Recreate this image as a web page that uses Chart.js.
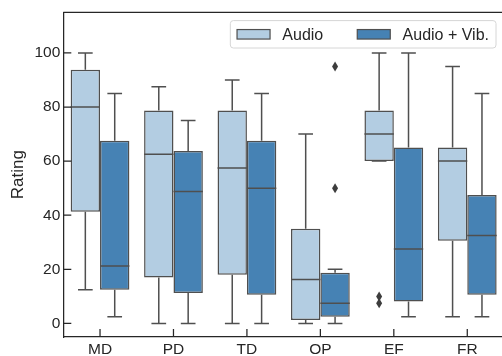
<!DOCTYPE html>
<html>
<head>
<meta charset="utf-8">
<script src="https://cdn.jsdelivr.net/npm/chart.js@4.4.1/dist/chart.umd.min.js"></script>
<style>
  html, body { margin: 0; padding: 0; background: #fff; overflow: hidden; }
  #wrap { width: 505px; height: 356px; position: relative; }
</style>
</head>
<body>
<div id="wrap"><canvas id="chart"></canvas></div>
<script>
/* ================================
   Data
================================ */
const categories = ['MD', 'PD', 'TD', 'OP', 'EF', 'FR'];
const seriesNames = ['Audio', 'Audio + Vib.'];
const yTicks = [0, 20, 40, 60, 80, 100];

const audioMin = [12.5, 0, 0, 0, 60, 2.5];
const audioQ1 = [41.25, 17, 18, 1.25, 60, 30.6];
const audioMed = [80, 62.5, 57.5, 16.25, 70, 60];
const audioQ3 = [93.75, 78.75, 78.75, 35, 78.75, 65];
const audioMax = [100, 87.5, 90, 70, 100, 95];
const audioOut = [[], [], [], [], [10, 7.5], []];

const vibMin = [2.5, 0, 0, 0, 2.5, 2.5];
const vibQ1 = [12.5, 11.25, 10.6, 2.5, 8.1, 10.6];
const vibMed = [21.25, 48.75, 50, 7.5, 27.5, 32.5];
const vibQ3 = [67.5, 63.75, 67.5, 18.75, 65, 47.5];
const vibMax = [85, 75, 85, 20, 100, 85];
const vibOut = [[], [], [], [95, 50], [], []];

const boxStats = [
  { min: audioMin, q1: audioQ1, med: audioMed, q3: audioQ3, max: audioMax, out: audioOut },
  { min: vibMin, q1: vibQ1, med: vibMed, q3: vibQ3, max: vibMax, out: vibOut }
];

const colors = ['#b3cde2', '#4682b4'];
const edge = '#4f4f4f';
const ink = '#262626';
const FONT = '"Liberation Sans", Arial, sans-serif';

/* ================================
   Whiskers, medians, outliers, spines
================================ */
const boxPlugin = {
  id: 'boxExtras',
  afterDatasetsDraw(chart) {
    const ctx = chart.ctx;
    const y = chart.scales.y;
    const xs = chart.scales.x;
    ctx.save();
    ctx.strokeStyle = edge;
    ctx.lineWidth = 1.5;
    chart.data.datasets.forEach((ds, di) => {
      const s = boxStats[di];
      chart.getDatasetMeta(di).data.forEach((bar, i) => {
        const x = bar.x;
        const half = bar.width / 2;
        const cap = bar.width / 4;
        ctx.beginPath();
        // upper whisker + cap
        ctx.moveTo(x, y.getPixelForValue(s.q3[i]));
        ctx.lineTo(x, y.getPixelForValue(s.max[i]));
        ctx.moveTo(x - cap, y.getPixelForValue(s.max[i]));
        ctx.lineTo(x + cap, y.getPixelForValue(s.max[i]));
        // lower whisker + cap
        ctx.moveTo(x, y.getPixelForValue(s.q1[i]));
        ctx.lineTo(x, y.getPixelForValue(s.min[i]));
        ctx.moveTo(x - cap, y.getPixelForValue(s.min[i]));
        ctx.lineTo(x + cap, y.getPixelForValue(s.min[i]));
        // median
        ctx.moveTo(x - half, y.getPixelForValue(s.med[i]));
        ctx.lineTo(x + half, y.getPixelForValue(s.med[i]));
        ctx.stroke();

        // outliers as thin diamonds
        ctx.fillStyle = '#3d3d3d';
        s.out[i].forEach(v => {
          const py = y.getPixelForValue(v);
          ctx.beginPath();
          ctx.moveTo(x, py - 5);
          ctx.lineTo(x + 3, py);
          ctx.lineTo(x, py + 5);
          ctx.lineTo(x - 3, py);
          ctx.closePath();
          ctx.fill();
        });
      });
    });

    // top spine + inward tick marks
    const ca = chart.chartArea;
    ctx.strokeStyle = ink;
    ctx.lineWidth = 1.25;
    ctx.beginPath();
    ctx.moveTo(ca.left, ca.top);
    ctx.lineTo(ca.right + 2, ca.top);
    yTicks.forEach(v => {
      const py = y.getPixelForValue(v);
      ctx.moveTo(ca.left, py);
      ctx.lineTo(ca.left + 8, py);
    });
    categories.forEach((c, i) => {
      const px = xs.getPixelForTick(i);
      ctx.moveTo(px, ca.bottom);
      ctx.lineTo(px, ca.bottom - 8);
    });
    ctx.stroke();
    ctx.restore();
  }
};

/* ================================
   Legend box inside the plot
================================ */
const legendPlugin = {
  id: 'innerLegend',
  afterDraw(chart) {
    const ctx = chart.ctx;
    const ca = chart.chartArea;
    ctx.save();
    ctx.font = '16px ' + FONT;
    const patchW = 33, patchH = 9.5, gap = 12.3, colGap = 34, padL = 6.7, padR = 7;
    const w = chart.data.datasets.map(d => ctx.measureText(d.label).width);
    const total = padL + patchW + gap + w[0] + colGap + patchW + gap + w[1] + padR;
    const right = ca.right - 8;
    const left = right - total;
    const top = ca.top + 8.3;
    const h = 27.4;

    ctx.fillStyle = 'rgba(255,255,255,0.8)';
    ctx.strokeStyle = '#d6d6d6';
    ctx.lineWidth = 1;
    ctx.beginPath();
    ctx.roundRect(left, top, total, h, 3);
    ctx.fill();
    ctx.stroke();

    let x = left + padL;
    const cy = top + h / 2;
    chart.data.datasets.forEach((d, i) => {
      ctx.fillStyle = colors[i];
      ctx.fillRect(x, cy - patchH / 2, patchW, patchH);
      ctx.strokeStyle = edge;
      ctx.lineWidth = 1.2;
      ctx.strokeRect(x, cy - patchH / 2, patchW, patchH);
      x += patchW + gap;
      ctx.fillStyle = ink;
      ctx.textBaseline = 'middle';
      ctx.fillText(d.label, x, cy + 1);
      x += w[i] + colGap;
    });
    ctx.restore();
  }
};

/* ================================
   Chart
================================ */
const datasets = seriesNames.map((name, di) => ({
  label: name,
  data: categories.map((c, i) => [boxStats[di].q1[i], boxStats[di].q3[i]]),
  backgroundColor: colors[di],
  borderColor: edge,
  borderWidth: 1.5,
  borderSkipped: false,
  categoryPercentage: 0.8,
  barPercentage: 1.0
}));

new Chart(document.getElementById('chart').getContext('2d'), {
  type: 'bar',
  data: { labels: categories, datasets },
  options: {
    responsive: true,
    maintainAspectRatio: false,
    animation: false,
    layout: { padding: { top: 10, right: 1, left: 0, bottom: 0 } },
    plugins: {
      legend: { display: false },
      tooltip: { enabled: false }
    },
    events: [],
    scales: {
      x: {
        offset: true,
        grid: { display: true, drawOnChartArea: false, drawTicks: false },
        border: { color: ink, width: 1.25 },
        ticks: { color: ink, font: { family: FONT, size: 15.5 }, padding: 3 },
        afterFit(scale) { scale.height = 19; }
      },
      y: {
        min: -5,
        max: 115,
        afterBuildTicks(scale) { scale.ticks = yTicks.map(v => ({ value: v })); },
        grid: { display: true, drawOnChartArea: false, drawTicks: false },
        border: { color: ink, width: 1.25 },
        ticks: { color: ink, font: { family: FONT, size: 15.5 }, padding: 3 },
        title: {
          display: true,
          text: 'Rating',
          color: ink,
          font: { family: FONT, size: 17 },
          padding: { top: 8, bottom: 0 }
        },
        afterFit(scale) { scale.width = 63.3; }
      }
    }
  },
  plugins: [boxPlugin, legendPlugin]
});
</script>
</body>
</html>
